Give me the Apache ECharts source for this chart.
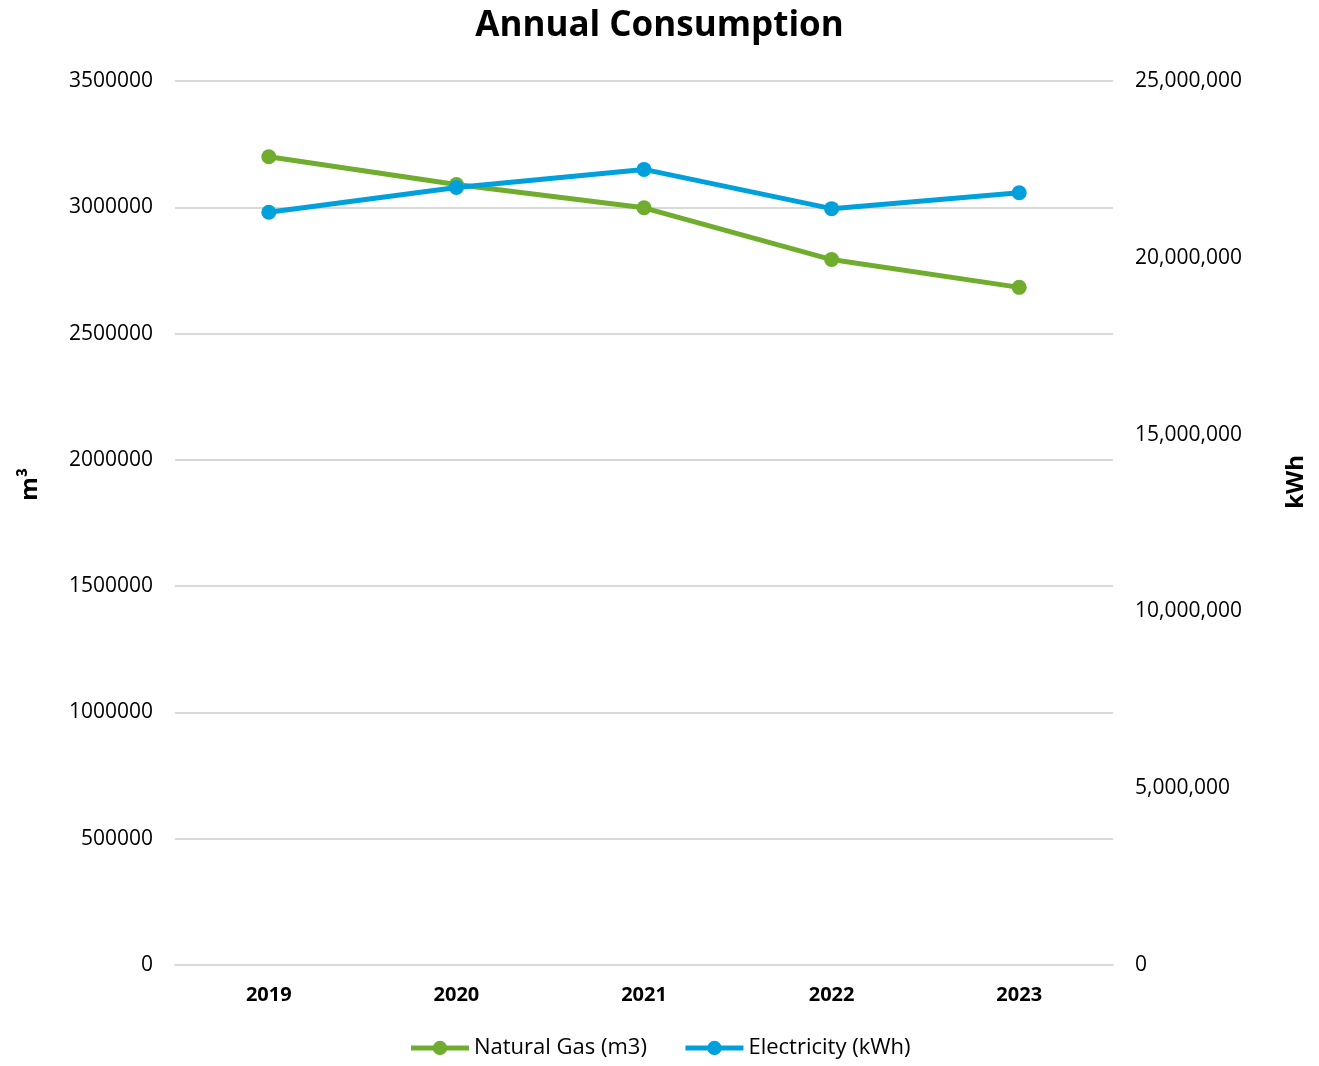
<!DOCTYPE html>
<html><head><meta charset="utf-8">
<script src="https://cdn.jsdelivr.net/npm/echarts@6/dist/echarts.min.js"></script>
<style>html,body{margin:0;padding:0;background:#fff}#c{width:1319px;height:1066px}</style>
</head><body><div id="c"></div>
<script>
const categories = ['2019','2020','2021','2022','2023'];
const gasValues = [3200000, 3090000, 2998000, 2793000, 2683000];
const elecValues = [21290000, 21990000, 22500000, 21390000, 21840000];
const leftTicks = [0, 3500000, 500000];
const rightTicks = [0, 25000000, 5000000];

const FONT = '"Open Sans", "Noto Sans", sans-serif';
const chart = echarts.init(document.getElementById('c'));
chart.setOption({
  animation: false,
  textStyle: {fontFamily: FONT},
  title: {text: 'Annual Consumption', left: 'center', top: 4,
    textStyle: {fontSize: 35, fontWeight: 'bold', color: '#000', fontFamily: FONT}},
  legend: {bottom: 2, left: 'center', itemWidth: 58, itemHeight: 18, itemGap: 36,
    lineStyle: {width: 5},
    textStyle: {fontSize: 22, color: '#000', fontFamily: FONT},
    data: ['Natural Gas (m3)', 'Electricity (kWh)']},
  grid: {left: 175, right: 206, top: 81, bottom: 101},
  graphic: [
    {type: 'text', left: 18, top: 468, rotation: Math.PI / 2,
     style: {text: 'm³', font: 'bold 24px ' + FONT, fill: '#000'}},
    {type: 'text', left: 1284, top: 455, rotation: Math.PI / 2,
     style: {text: 'kWh', font: 'bold 24px ' + FONT, fill: '#000'}}
  ],
  xAxis: {type: 'category', data: categories, boundaryGap: true,
    axisLine: {lineStyle: {color: '#d9d9d9', width: 2}}, axisTick: {show: false},
    axisLabel: {fontSize: 20, fontWeight: 'bold', color: '#000', margin: 20, fontFamily: FONT}},
  yAxis: [
    {type: 'value', min: leftTicks[0], max: leftTicks[1], interval: leftTicks[2],
     axisLine: {show: false}, axisTick: {show: false},
     splitLine: {lineStyle: {color: '#d9d9d9', width: 2}},
     axisLabel: {fontSize: 21, color: '#000', margin: 22, fontFamily: FONT,
       formatter: v => String(v)}},
    {type: 'value', min: rightTicks[0], max: rightTicks[1], interval: rightTicks[2],
     axisLine: {show: false}, axisTick: {show: false}, splitLine: {show: false},
     axisLabel: {fontSize: 21, color: '#000', margin: 22, fontFamily: FONT,
       formatter: v => v.toLocaleString('en-US')}}
  ],
  series: [
    {name: 'Natural Gas (m3)', type: 'line', yAxisIndex: 0, data: gasValues,
     symbol: 'circle', symbolSize: 15, color: '#70ad2f',
     lineStyle: {width: 5, color: '#70ad2f'}, itemStyle: {color: '#70ad2f'}},
    {name: 'Electricity (kWh)', type: 'line', yAxisIndex: 1, data: elecValues,
     symbol: 'circle', symbolSize: 15, color: '#00a0dc',
     lineStyle: {width: 5, color: '#00a0dc'}, itemStyle: {color: '#00a0dc'}}
  ]
});
</script></body></html>
